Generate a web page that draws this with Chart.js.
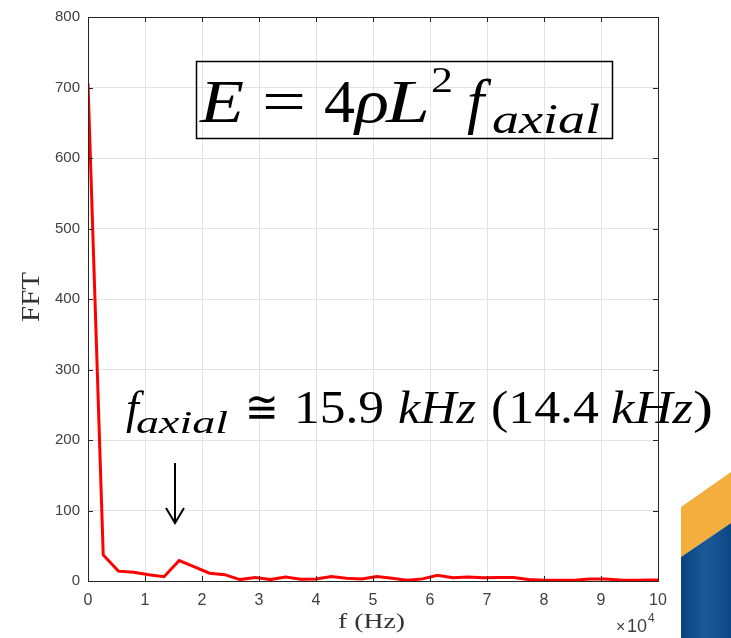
<!DOCTYPE html>
<html>
<head>
<meta charset="utf-8">
<script src="https://cdn.jsdelivr.net/npm/chart.js@4.4.0/dist/chart.umd.min.js"></script>
<style>
  body { margin: 0; background: #fff; }
</style>
</head>
<body>
<canvas id="fftChart" width="731" height="638"></canvas>
<script>
// frequency (x10^4 Hz) and FFT amplitude
const freqs = [0, 0.267, 0.533, 0.8, 1.067, 1.333, 1.6, 1.867, 2.133, 2.4,
  2.667, 2.933, 3.2, 3.467, 3.733, 4.0, 4.267, 4.533, 4.8, 5.067,
  5.333, 5.6, 5.867, 6.133, 6.4, 6.667, 6.933, 7.2, 7.467, 7.733,
  8.0, 8.267, 8.533, 8.8, 9.067, 9.333, 9.6, 9.867, 10];
const fftValues = [706, 37, 14, 12.5, 9, 6, 29, 20, 11, 9,
  2, 5, 2, 5.5, 2.5, 3, 6.5, 4, 3, 6.5,
  4, 1, 3, 8, 4.5, 5.5, 4.5, 5, 5, 2,
  1, 1, 1, 3, 3, 1.5, 1, 1.5, 1.5];

const xMin = 0, xMax = 10, xStep = 1;
const yMin = 0, yMax = 800, yStep = 100;
const xTitle = 'f (Hz)';
const yTitle = 'FFT';

const axisGray = '#404040';
const boxColor = '#262626';

const chartCanvas = document.querySelector('#fftChart').getContext('2d');

// draw text left aligned, squeezed/stretched to a target width
function fitText(ctx, text, x, y, font, targetW) {
  ctx.save();
  ctx.font = font;
  const w = ctx.measureText(text).width;
  ctx.translate(x, y);
  if (targetW) ctx.scale(targetW / w, 1);
  ctx.fillText(text, 0, 0);
  ctx.restore();
}

const overlay = {
  id: 'overlay',
  afterDraw(chart) {
    const ctx = chart.ctx;
    const area = chart.chartArea;
    const xs = chart.scales.x, ys = chart.scales.y;
    const serif = '"Liberation Serif"';

    // box round the axes + inward ticks (matlab style)
    ctx.save();
    ctx.strokeStyle = boxColor;
    ctx.lineWidth = 1;
    ctx.strokeRect(area.left + 0.5, area.top + 0.5, area.right - area.left, area.bottom - area.top);
    ctx.beginPath();
    for (let v = yMin; v <= yMax; v += yStep) {
      const py = Math.round(ys.getPixelForValue(v)) + 0.5;
      ctx.moveTo(area.left, py); ctx.lineTo(area.left + 5, py);
      ctx.moveTo(area.right, py); ctx.lineTo(area.right - 5, py);
    }
    for (let v = xMin; v <= xMax; v += xStep) {
      const px = Math.round(xs.getPixelForValue(v)) + 0.5;
      ctx.moveTo(px, area.bottom); ctx.lineTo(px, area.bottom - 5);
      ctx.moveTo(px, area.top); ctx.lineTo(px, area.top + 5);
    }
    ctx.stroke();

    // axis titles
    ctx.fillStyle = '#333';
    ctx.textBaseline = 'alphabetic';
    fitText(ctx, xTitle, 338, 628, '20px ' + serif, 67);
    ctx.save();
    ctx.translate(39, 322);
    ctx.rotate(-Math.PI / 2);
    fitText(ctx, yTitle, 0, 0, '25px ' + serif, 50);
    ctx.restore();

    // x10^4 exponent
    ctx.fillStyle = axisGray;
    ctx.font = '16px "Liberation Sans"';
    ctx.fillText('\u00d7', 616, 632);
    ctx.font = '18px "Liberation Sans"';
    ctx.fillText('10', 627, 632);
    ctx.font = '12px "Liberation Sans"';
    ctx.fillText('4', 648, 622);

    // equation box
    ctx.fillStyle = '#000';
    ctx.strokeStyle = '#000';
    ctx.lineWidth = 1.5;
    ctx.strokeRect(196.5, 61.5, 416, 77);
    fitText(ctx, 'E', 200, 122, 'italic 62px ' + serif, 44);
    fitText(ctx, '=', 262, 122, '62px ' + serif, 44);
    fitText(ctx, '4', 324, 122, '62px ' + serif, 31);
    fitText(ctx, '\u03c1', 355, 122, 'italic 62px ' + serif, 34);
    fitText(ctx, 'L', 386, 122, 'italic 62px ' + serif, 44);
    fitText(ctx, '2', 431, 92, '36px ' + serif, 22);
    fitText(ctx, 'f', 467, 122, 'italic 62px ' + serif);
    fitText(ctx, 'axial', 492, 133, 'italic 42px ' + serif, 108);

    // f_axial annotation
    fitText(ctx, 'f', 126, 423, 'italic 46px ' + serif);
    fitText(ctx, 'axial', 136, 433, 'italic 32px ' + serif, 92);
    fitText(ctx, '\u2245', 245, 423, '46px ' + serif, 34);
    fitText(ctx, '15.9', 294, 423, '46px ' + serif, 90);
    fitText(ctx, 'kHz', 398, 423, 'italic 46px ' + serif, 78);
    fitText(ctx, '(14.4', 491, 423, '46px ' + serif, 108);
    fitText(ctx, 'kHz', 611, 423, 'italic 46px ' + serif, 82);
    fitText(ctx, ')', 693, 423, '46px ' + serif, 20);

    // arrow
    ctx.lineWidth = 2;
    ctx.beginPath();
    ctx.moveTo(175, 463); ctx.lineTo(175, 523);
    ctx.moveTo(166, 508); ctx.lineTo(175, 523); ctx.lineTo(184, 508);
    ctx.stroke();

    // slide decoration bottom right
    ctx.fillStyle = '#f4ae3d';
    ctx.beginPath();
    ctx.moveTo(681, 507); ctx.lineTo(731, 472); ctx.lineTo(731, 523); ctx.lineTo(681, 557);
    ctx.closePath(); ctx.fill();
    const grad = ctx.createLinearGradient(681, 0, 731, 0);
    grad.addColorStop(0, '#0d437f');
    grad.addColorStop(0.5, '#1a5a9a');
    grad.addColorStop(1, '#0e4684');
    ctx.fillStyle = grad;
    ctx.beginPath();
    ctx.moveTo(681, 557); ctx.lineTo(731, 523); ctx.lineTo(731, 638); ctx.lineTo(681, 638);
    ctx.closePath(); ctx.fill();
    ctx.restore();
  }
};

const fftChart = new Chart(chartCanvas, {
  type: 'line',
  data: {
    datasets: [{
      label: 'FFT',
      data: freqs.map((f, i) => ({ x: f, y: fftValues[i] })),
      borderColor: '#ff0000',
      backgroundColor: 'transparent',
      borderWidth: 3,
      pointRadius: 0,
      tension: 0,
      fill: false
    }]
  },
  options: {
    responsive: false,
    animation: false,
    layout: { padding: { top: 12, right: 73, bottom: 0, left: 0 } },
    plugins: {
      legend: { display: false },
      tooltip: { enabled: false }
    },
    scales: {
      x: {
        type: 'linear',
        min: xMin,
        max: xMax,
        afterFit: (scale) => { scale.height = 57; },
        grid: { color: '#e3e3e3', drawTicks: false },
        border: { display: false },
        ticks: {
          stepSize: xStep,
          padding: 10,
          color: axisGray,
          font: { family: 'Liberation Sans', size: 16 },
          maxRotation: 0
        }
      },
      y: {
        min: yMin,
        max: yMax,
        afterFit: (scale) => { scale.width = 88; },
        grid: { color: '#e3e3e3', drawTicks: false },
        border: { display: false },
        ticks: {
          stepSize: yStep,
          padding: 8,
          color: axisGray,
          font: { family: 'Liberation Sans', size: 15 }
        }
      }
    }
  },
  plugins: [overlay]
});
</script>
</body>
</html>
